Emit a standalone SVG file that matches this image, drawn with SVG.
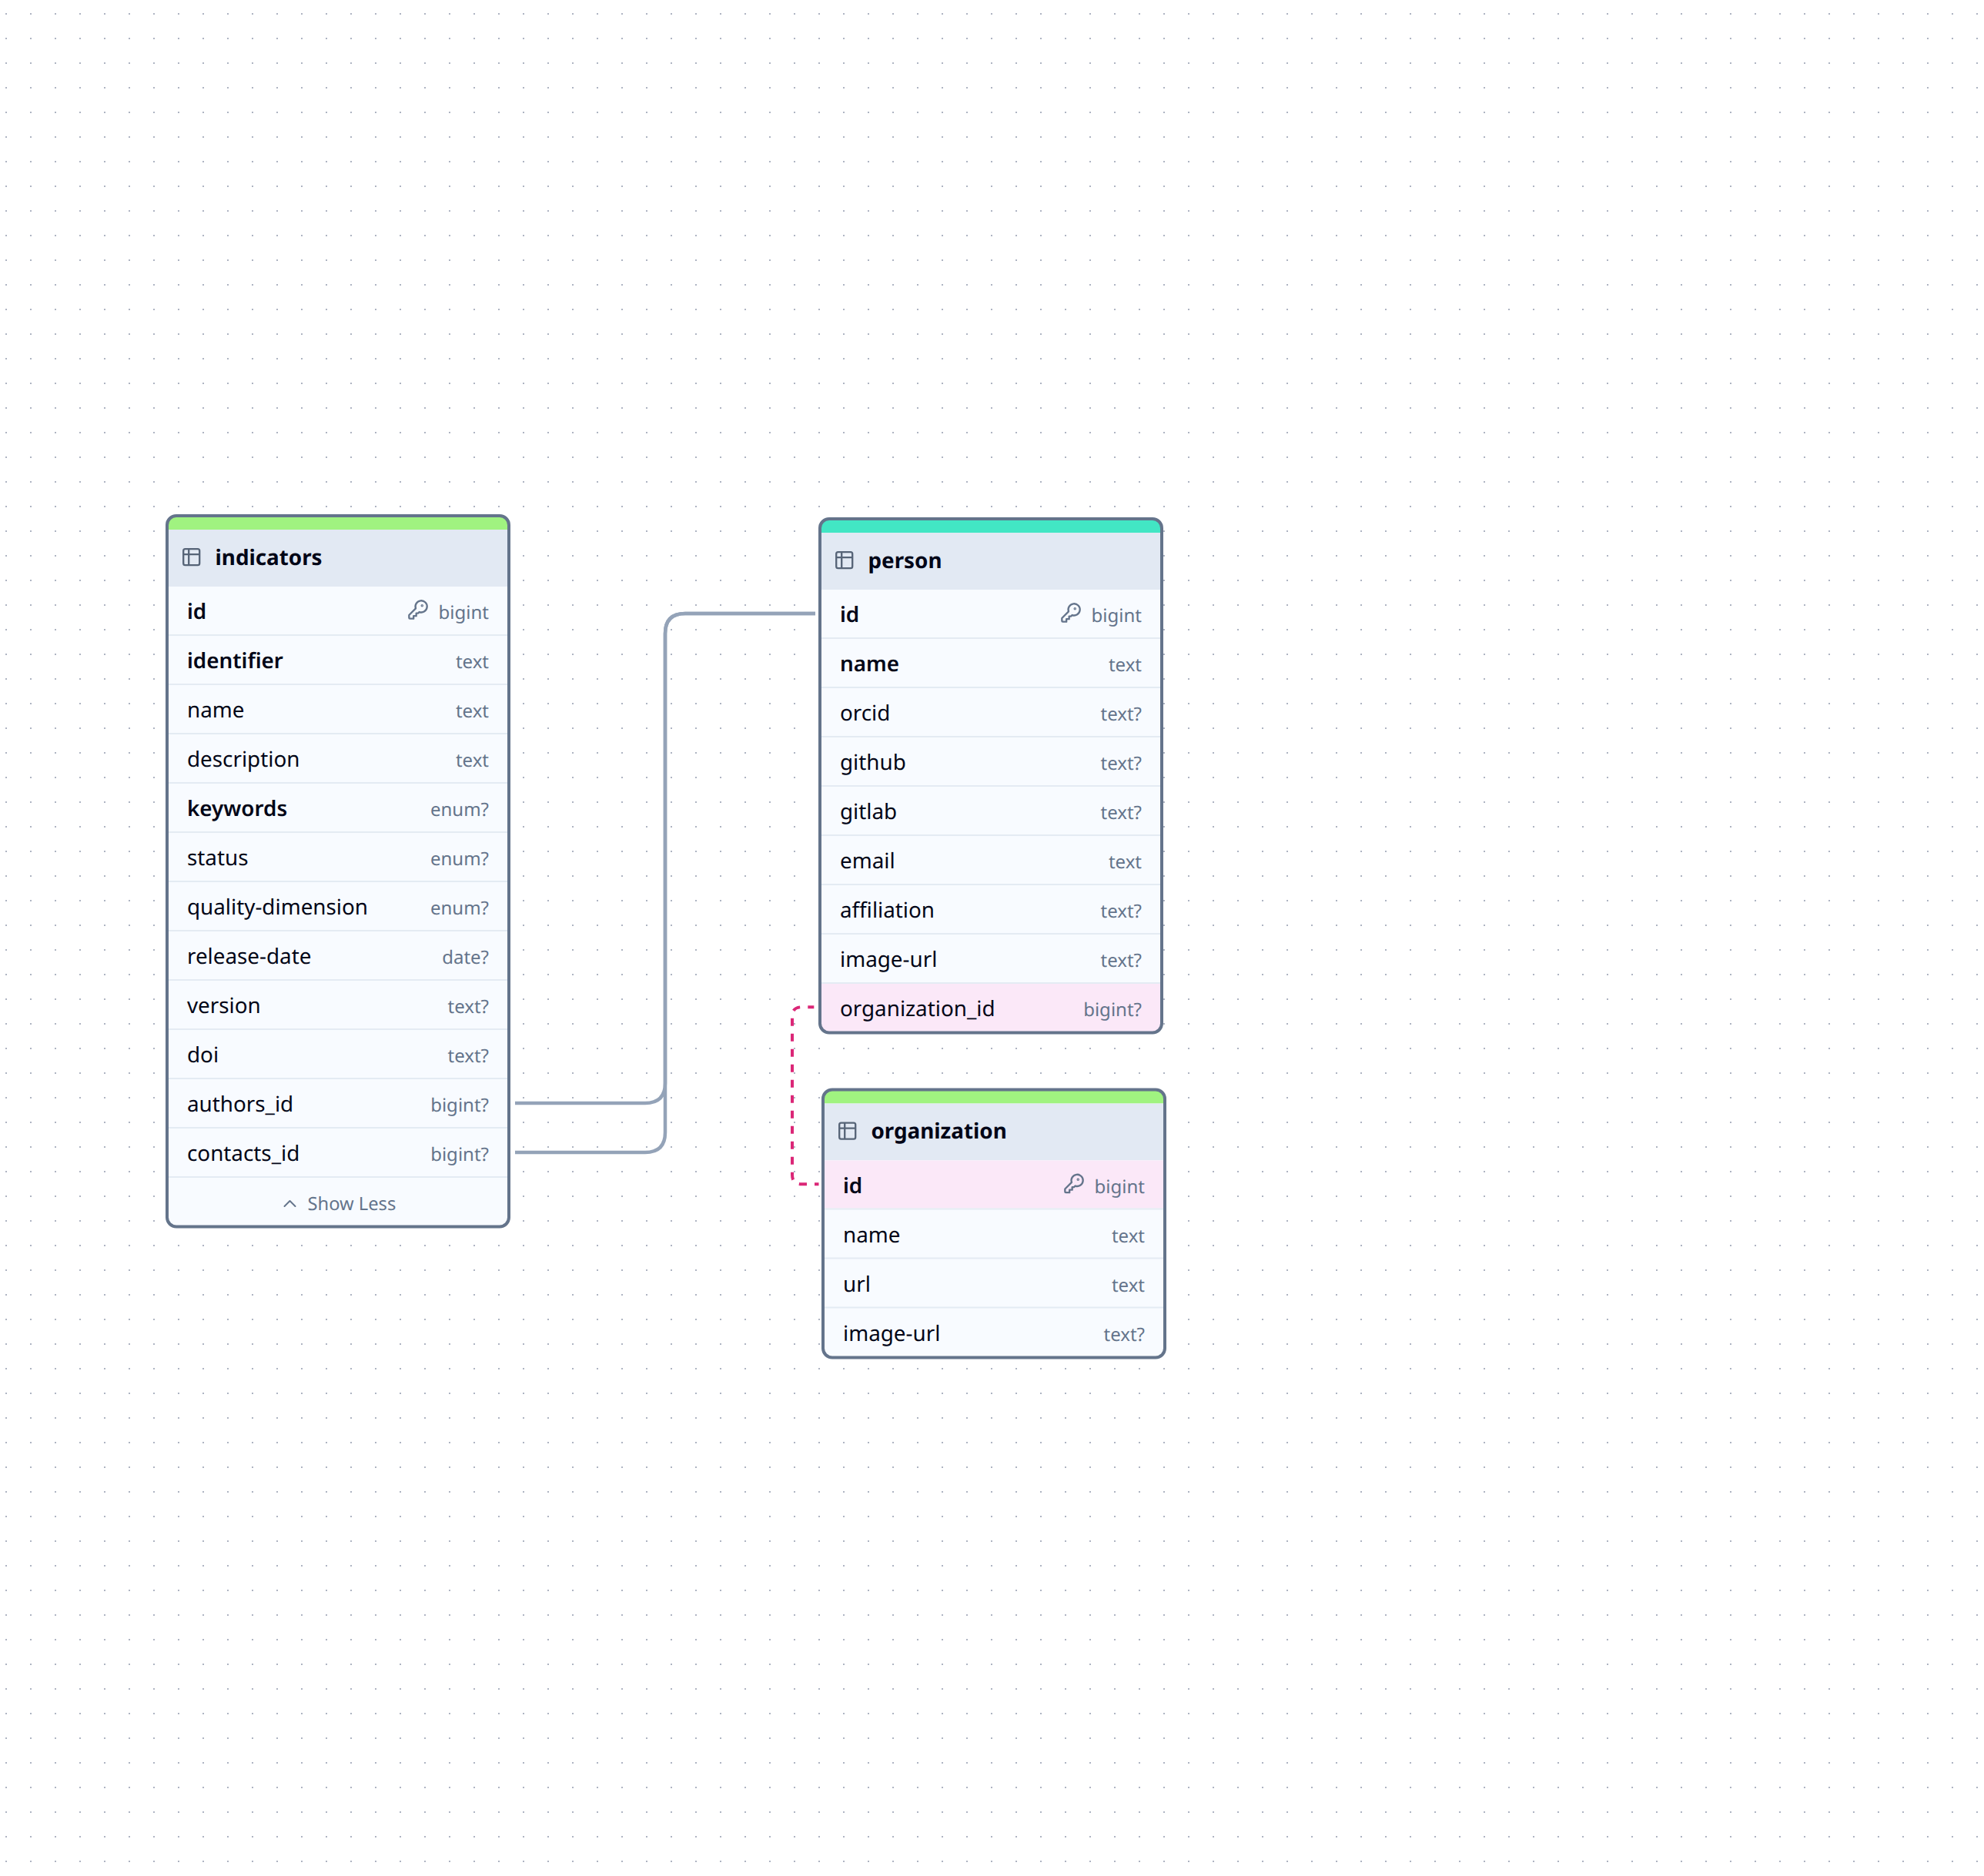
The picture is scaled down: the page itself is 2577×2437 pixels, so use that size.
<svg xmlns="http://www.w3.org/2000/svg" xmlns:xlink="http://www.w3.org/1999/xlink" width="2577" height="2437" viewBox="0 0 2577 2437">
<style>
text{font-family:"Noto Sans","Open Sans","DejaVu Sans",sans-serif;text-rendering:geometricPrecision}
.frame{fill:none;stroke:#64748b;stroke-width:4}
.hdr{fill:#e2e9f3}
.row{fill:#f8fbff}
.pk{fill:#fbe8f8}
.sep{fill:#e4ebf3}
.title{font-size:27.800px;font-weight:700;fill:#020617}
.n{font-size:27.800px;fill:#020617}
.b{font-weight:600}
.t{font-size:24px;fill:#64748b;text-anchor:end}
.more{font-size:23.700px;fill:#64748b}
.ic{fill:none;stroke:#64748b;stroke-width:2;stroke-linecap:round;stroke-linejoin:round}
.ti{fill:none;stroke:#475569;stroke-opacity:.9;stroke-width:2;stroke-linecap:round;stroke-linejoin:round}
.edge{fill:none;stroke:#94a3b8;stroke-width:4.500}
.fk{fill:none;stroke:#db2777;stroke-width:4;stroke-dasharray:10 10;stroke-dashoffset:2}
</style>
<defs>
<pattern id="dots" width="32" height="32" patternUnits="userSpaceOnUse"><rect x="7" y="17" width="2" height="2" fill="#aeb4c2"/></pattern>
<clipPath id="c1"><rect x="2" y="2" width="444" height="923.5" rx="12"/></clipPath>
<clipPath id="c2"><rect x="2" y="2" width="444" height="667.5" rx="12"/></clipPath>
<clipPath id="c3"><rect x="2" y="2" width="444" height="348" rx="12"/></clipPath>
<symbol id="tbl" viewBox="0 0 24 24" width="28" height="28" overflow="visible"><path class="ti" d="M9 3H5a2 2 0 0 0-2 2v4m6-6h10a2 2 0 0 1 2 2v4M9 3v18m0 0h10a2 2 0 0 0 2-2V9M9 21H5a2 2 0 0 1-2-2V9m0 0h18"/></symbol>
<symbol id="key" viewBox="0 0 24 24" width="28" height="28" overflow="visible"><path class="ic" d="M2 18v3c0 .6.4 1 1 1h4v-3h3v-3h2l1.4-1.4a6.5 6.5 0 1 0-4-4Z"/><circle class="ic" cx="16.5" cy="7.5" r=".5"/></symbol>
</defs>
<rect width="2577" height="2437" fill="#fff"/>
<rect width="2577" height="2437" fill="url(#dots)"/>
<g id="connectors">
<path class="edge" d="M669 1433H838Q864 1433 864 1407V823Q864 797 890 797H1059"/>
<path class="edge" d="M669 1497H838Q864 1497 864 1471V823Q864 797 890 797H1059"/>
<path class="fk" d="M1057.3 1308.3H1041Q1029 1308.3 1029 1320.3V1526.3Q1029 1538.3 1041 1538.3H1063.5"/>
</g>
<g id="node-indicators" transform="translate(215 668)">
<g clip-path="url(#c1)">
<rect width="448" height="20" fill="#a0f380"/>
<rect class="hdr" y="20" width="448" height="74"/>
<rect class="row" y="94" width="448" height="834"/>
<rect class="sep" y="156" width="448" height="2"/><rect class="sep" y="220" width="448" height="2"/><rect class="sep" y="284" width="448" height="2"/><rect class="sep" y="348" width="448" height="2"/><rect class="sep" y="412" width="448" height="2"/><rect class="sep" y="476" width="448" height="2"/><rect class="sep" y="540" width="448" height="2"/><rect class="sep" y="604" width="448" height="2"/><rect class="sep" y="668" width="448" height="2"/><rect class="sep" y="732" width="448" height="2"/><rect class="sep" y="796" width="448" height="2"/><rect class="sep" y="860" width="448" height="2"/>
</g>
<rect class="frame" x="2" y="2" width="444" height="923.5" rx="12"/>
<use xlink:href="#tbl" href="#tbl" x="19.7" y="41.7" width="28" height="28"/>
<text class="title" x="64.500" y="65.500">indicators</text>
<use xlink:href="#key" href="#key" x="314" y="110" width="28" height="28"/>
<text class="n b" x="28" y="136">id</text><text class="t" x="420" y="136">bigint</text>
<text class="n b" x="28" y="200">identifier</text><text class="t" x="420" y="200">text</text>
<text class="n" x="28" y="264">name</text><text class="t" x="420" y="264">text</text>
<text class="n" x="28" y="328">description</text><text class="t" x="420" y="328">text</text>
<text class="n b" x="28" y="392">keywords</text><text class="t" x="420" y="392">enum?</text>
<text class="n" x="28" y="456">status</text><text class="t" x="420" y="456">enum?</text>
<text class="n" x="28" y="520">quality-dimension</text><text class="t" x="420" y="520">enum?</text>
<text class="n" x="28" y="584">release-date</text><text class="t" x="420" y="584">date?</text>
<text class="n" x="28" y="648">version</text><text class="t" x="420" y="648">text?</text>
<text class="n" x="28" y="712">doi</text><text class="t" x="420" y="712">text?</text>
<text class="n" x="28" y="776">authors_id</text><text class="t" x="420" y="776">bigint?</text>
<text class="n" x="28" y="840">contacts_id</text><text class="t" x="420" y="840">bigint?</text>
<path class="ic" d="M154.500 899L161.500 892L168.500 899"/>
<text class="more" x="184.500" y="903.700">Show Less</text>
</g>
<g id="node-person" transform="translate(1063 672)">
<g clip-path="url(#c2)">
<rect width="448" height="20" fill="#42e6c4"/>
<rect class="hdr" y="20" width="448" height="74"/>
<rect class="row" y="94" width="448" height="576"/>
<rect class="pk" y="606" width="448" height="66"/>
<rect class="sep" y="156" width="448" height="2"/><rect class="sep" y="220" width="448" height="2"/><rect class="sep" y="284" width="448" height="2"/><rect class="sep" y="348" width="448" height="2"/><rect class="sep" y="412" width="448" height="2"/><rect class="sep" y="476" width="448" height="2"/><rect class="sep" y="540" width="448" height="2"/><rect class="sep" y="604" width="448" height="2"/>
</g>
<rect class="frame" x="2" y="2" width="444" height="667.500" rx="12"/>
<use xlink:href="#tbl" href="#tbl" x="19.7" y="41.7" width="28" height="28"/>
<text class="title" x="64.500" y="65.500">person</text>
<use xlink:href="#key" href="#key" x="314" y="110" width="28" height="28"/>
<text class="n b" x="28" y="136">id</text><text class="t" x="420" y="136">bigint</text>
<text class="n b" x="28" y="200">name</text><text class="t" x="420" y="200">text</text>
<text class="n" x="28" y="264">orcid</text><text class="t" x="420" y="264">text?</text>
<text class="n" x="28" y="328">github</text><text class="t" x="420" y="328">text?</text>
<text class="n" x="28" y="392">gitlab</text><text class="t" x="420" y="392">text?</text>
<text class="n" x="28" y="456">email</text><text class="t" x="420" y="456">text</text>
<text class="n" x="28" y="520">affiliation</text><text class="t" x="420" y="520">text?</text>
<text class="n" x="28" y="584">image-url</text><text class="t" x="420" y="584">text?</text>
<text class="n" x="28" y="648">organization_id</text><text class="t" x="420" y="648">bigint?</text>
</g>
<g id="node-organization" transform="translate(1067 1413.5)">
<g clip-path="url(#c3)">
<rect width="448" height="20" fill="#a0f380"/>
<rect class="hdr" y="20" width="448" height="74"/>
<rect class="row" y="94" width="448" height="256"/>
<rect class="pk" y="94" width="448" height="62"/>
<rect class="sep" y="156" width="448" height="2"/><rect class="sep" y="220" width="448" height="2"/><rect class="sep" y="284" width="448" height="2"/>
</g>
<rect class="frame" x="2" y="2" width="444" height="348" rx="12"/>
<use xlink:href="#tbl" href="#tbl" x="19.7" y="41.7" width="28" height="28"/>
<text class="title" x="64.500" y="65.500">organization</text>
<use xlink:href="#key" href="#key" x="314" y="110" width="28" height="28"/>
<text class="n b" x="28" y="136">id</text><text class="t" x="420" y="136">bigint</text>
<text class="n" x="28" y="200">name</text><text class="t" x="420" y="200">text</text>
<text class="n" x="28" y="264">url</text><text class="t" x="420" y="264">text</text>
<text class="n" x="28" y="328">image-url</text><text class="t" x="420" y="328">text?</text>
</g>
</svg>
